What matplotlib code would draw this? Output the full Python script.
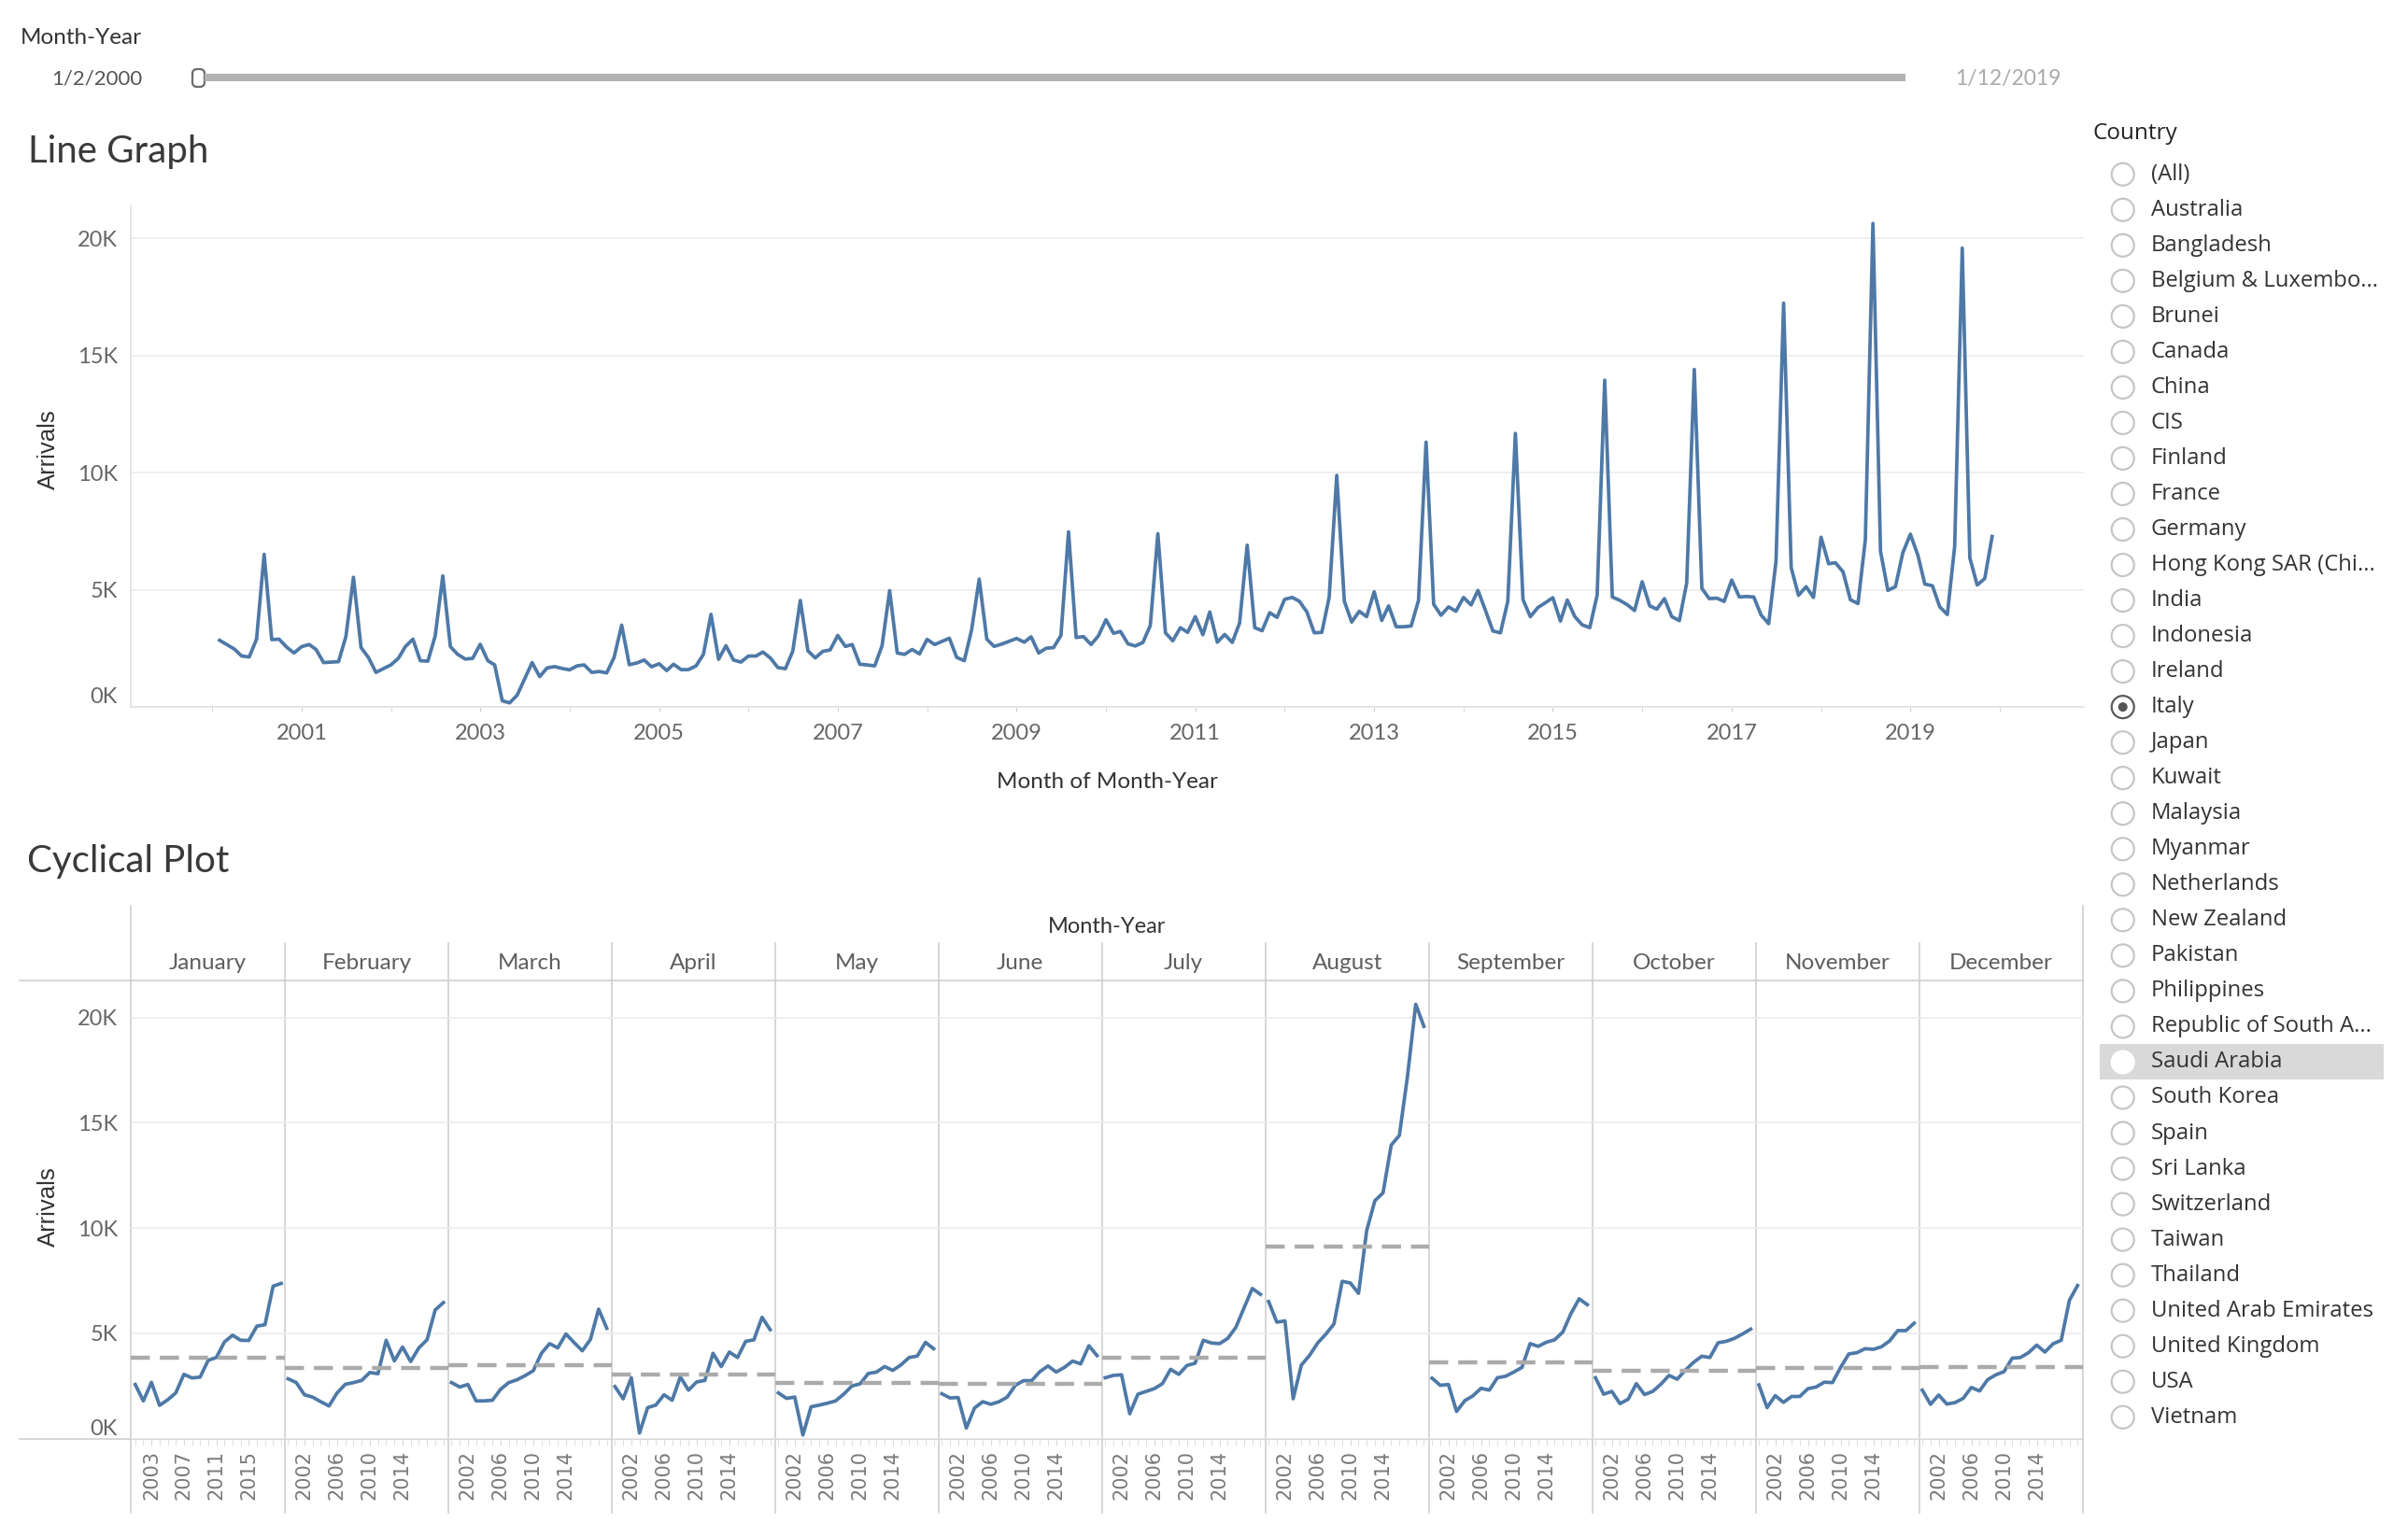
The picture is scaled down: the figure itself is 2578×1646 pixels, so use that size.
import matplotlib.pyplot as plt
from matplotlib.patches import Circle, Rectangle, FancyBboxPatch
import numpy as np

W, H = 2578, 1646
plt.rcParams['font.family'] = ['Lato', 'DejaVu Sans']

# monthly arrivals (Italy), Feb 2000 - Dec 2019
arrivals = [
    2840, 2660, 2470, 2170, 2130, 2890, 6510, 2870, 2890, 2550, 2300,          # 2000
    2570, 2660, 2450, 1890, 1910, 1930, 3000, 5530, 2530, 2110, 1470, 1630,    # 2001
    1790, 2080, 2570, 2890, 1970, 1950, 3030, 5590, 2570, 2240, 2040, 2070,    # 2002
    2670, 1970, 1790, 260, 170, 500, 1180, 1890, 1290, 1660, 1720, 1640,       # 2003
    1580, 1750, 1790, 1470, 1510, 1450, 2110, 3490, 1800, 1870, 2000, 1710,    # 2004
    1840, 1550, 1820, 1590, 1590, 1750, 2240, 3950, 2030, 2610, 2000, 1910,    # 2005
    2170, 2170, 2340, 2080, 1680, 1630, 2370, 4540, 2390, 2090, 2370, 2430,    # 2006
    3050, 2580, 2660, 1820, 1790, 1750, 2610, 4960, 2300, 2240, 2450, 2260,    # 2007
    2880, 2660, 2790, 2930, 2110, 1970, 3290, 5450, 2890, 2580, 2680, 2800,    # 2008
    2920, 2760, 2990, 2300, 2500, 2530, 3050, 7470, 2960, 3000, 2660, 3030,    # 2009
    3720, 3140, 3220, 2690, 2600, 2750, 3470, 7390, 3160, 2820, 3380, 3180,    # 2010
    3850, 3080, 4050, 2760, 3090, 2750, 3580, 6900, 3380, 3250, 4020, 3820,    # 2011
    4590, 4670, 4510, 4050, 3160, 3180, 4670, 9880, 4510, 3620, 4080, 3850,    # 2012
    4910, 3690, 4310, 3420, 3420, 3450, 4540, 11300, 4380, 3910, 4270, 4080,   # 2013
    4670, 4350, 4970, 4110, 3240, 3160, 4510, 11670, 4580, 3850, 4240, 4440,   # 2014
    4660, 3660, 4560, 3850, 3500, 3380, 4760, 13940, 4690, 4550, 4360, 4110,   # 2015
    5340, 4310, 4170, 4620, 3850, 3680, 5290, 14400, 5060, 4620, 4640, 4500,   # 2016
    5410, 4690, 4710, 4690, 3920, 3550, 6220, 17230, 5940, 4760, 5130, 4670,   # 2017
    7240, 6110, 6150, 5760, 4570, 4410, 7130, 20630, 6640, 4970, 5130, 6570,   # 2018
    7370, 6460, 5240, 5170, 4270, 3940, 6850, 19580, 6360, 5200, 5480, 7270,   # 2019
]
months = np.arange('2000-02', '2020-01', dtype='datetime64[M]')
values = np.array(arrivals)
years = months.astype('datetime64[Y]').astype(int) + 1970
month_idx = months.astype(int) % 12

month_names = ['January', 'February', 'March', 'April', 'May', 'June', 'July',
               'August', 'September', 'October', 'November', 'December']
line_year_ticks = [2001, 2003, 2005, 2007, 2009, 2011, 2013, 2015, 2017, 2019]
jan_year_ticks = [2003, 2007, 2011, 2015]
other_year_ticks = [2002, 2006, 2010, 2014]
y_ticks = [0, 5000, 10000, 15000, 20000]
y_labels = ['0K', '5K', '10K', '15K', '20K']

countries = ['(All)', 'Australia', 'Bangladesh', 'Belgium & Luxembo...', 'Brunei',
             'Canada', 'China', 'CIS', 'Finland', 'France', 'Germany',
             'Hong Kong SAR (Chi...', 'India', 'Indonesia', 'Ireland', 'Italy',
             'Japan', 'Kuwait', 'Malaysia', 'Myanmar', 'Netherlands', 'New Zealand',
             'Pakistan', 'Philippines', 'Republic of South A...', 'Saudi Arabia',
             'South Korea', 'Spain', 'Sri Lanka', 'Switzerland', 'Taiwan', 'Thailand',
             'United Arab Emirates', 'United Kingdom', 'USA', 'Vietnam']
selected = 'Italy'
hovered = 'Saudi Arabia'

blue = '#4e79a7'
tick_col = '#666666'


def fx(x):
    return x / W


def fy(y):
    return 1 - y / H


fig = plt.figure(figsize=(W / 100, H / 100), dpi=100)

# ---- line graph
ax = fig.add_axes([fx(140), fy(757), fx(2231) - fx(140), (757 - 220) / H])
ax.set_facecolor('none')
ax.plot(months, values, color=blue, lw=2.7, solid_joinstyle='round')
ax.set_ylim(0, 21400)
ax.set_xlim(np.datetime64('1999-02-03'), np.datetime64('2020-12-10'))
ax.set_yticks(y_ticks)
ax.set_yticklabels(y_labels)
ax.set_xticks([np.datetime64(f'{y}-01-01') for y in line_year_ticks])
ax.set_xticklabels([str(y) for y in line_year_ticks])
ax.set_xticks([np.datetime64(f'{y}-01-01') for y in range(2000, 2021, 2)], minor=True)
ax.tick_params(axis='x', which='both', length=3.6, color='#d0d0d0', pad=9.5,
               labelsize=17, labelcolor=tick_col)
ax.tick_params(axis='y', length=0, pad=10, labelsize=17, labelcolor=tick_col)
ax.grid(axis='y', color='#ececec', lw=1.2)
ax.set_axisbelow(True)
for s in ['top', 'right']:
    ax.spines[s].set_visible(False)
for s in ['left', 'bottom']:
    ax.spines[s].set_color('#e2e2e2')
    ax.spines[s].set_linewidth(1.2)
ax.yaxis.get_major_ticks()[0].label1.set_verticalalignment('bottom')

# ---- cyclical plot
gs = fig.add_gridspec(1, 12, left=fx(140), right=fx(2229.5), bottom=fy(1540.6),
                      top=fy(1050), wspace=0, width_ratios=[165] + [175] * 11)
panels = []
for i in range(12):
    cax = fig.add_subplot(gs[0, i])
    cax.set_facecolor('none')
    sel = month_idx == i
    cax.plot(years[sel], values[sel], color=blue, lw=2.7, solid_joinstyle='round')
    cax.axhline(values[sel].mean(), color='#ababab', lw=3.2, ls=(0, (4.6, 2.4)))
    cax.set_ylim(0, 21760)
    if i == 0:
        cax.set_xlim(2000.45, 2019.45)
        ticks = jan_year_ticks
    else:
        cax.set_xlim(1999.6, 2019.6)
        ticks = other_year_ticks
    cax.set_xticks(ticks)
    cax.set_xticklabels([str(t) for t in ticks], rotation=90, fontfamily='DejaVu Sans',
                        fontsize=15, color='#7a7a7a')
    cax.set_xticks(range(years[sel].min(), 2020), minor=True)
    cax.tick_params(axis='x', which='both', length=5, color='#dadada', pad=4)
    cax.set_yticks(y_ticks)
    if i == 0:
        cax.set_yticklabels(y_labels)
        cax.tick_params(axis='y', length=0, pad=10, labelsize=17, labelcolor=tick_col)
        cax.yaxis.get_major_ticks()[0].label1.set_verticalalignment('bottom')
    else:
        cax.tick_params(axis='y', length=0, labelleft=False)
    cax.grid(axis='y', color='#ececec', lw=1.2)
    cax.set_axisbelow(True)
    for s in cax.spines.values():
        s.set_visible(False)
    panels.append(cax)

# ---- overlay in pixel coordinates (filters, headers, separators)
ov = fig.add_axes([0, 0, 1, 1], zorder=-1)
ov.set_xlim(0, W)
ov.set_ylim(H, 0)
ov.axis('off')

line_col = '#cfcfcf'
ov.plot([21, 2230], [1050, 1050], color=line_col, lw=1.2)
ov.plot([21, 2230], [1540.6, 1540.6], color=line_col, lw=1.2)
bounds = [p.get_position().x0 * W for p in panels] + [panels[-1].get_position().x1 * W]
for k, bx in enumerate(bounds):
    top = 970 if k in (0, len(bounds) - 1) else 1010
    ov.plot([bx, bx], [top, 1620], color=line_col, lw=1.2)
for k, name in enumerate(month_names):
    cx = (bounds[k] + bounds[k + 1]) / 2
    ov.text(cx, 1032, name, ha='center', va='center', fontsize=17.5, color='#5e5e5e')
ov.text((bounds[0] + bounds[-1]) / 2, 992, 'Month-Year', ha='center', va='center',
        fontsize=17, color='#333333')

# titles and axis labels
ov.text(30, 162, 'Line Graph', ha='left', va='center', fontsize=29, color='#3a3a3a')
ov.text(29, 922, 'Cyclical Plot', ha='left', va='center', fontsize=29, color='#3a3a3a')
ov.text(1185, 837, 'Month of Month-Year', ha='center', va='center', fontsize=17.5,
        color='#333333')
for yc in (481, 1292):
    ov.text(52, yc, 'Arrivals', ha='center', va='center', rotation=90, fontsize=18.5,
            fontfamily='Liberation Sans', color='#333333')

# date slider
ov.text(22, 40, 'Month-Year', ha='left', va='center', fontsize=17.5, color='#333333')
ov.text(152, 84, '1/2/2000', ha='right', va='center', fontsize=16, color='#555555')
ov.text(2093, 84, '1/12/2019', ha='left', va='center', fontsize=16.5, color='#aaaaaa')
ov.plot([219, 2040], [83, 83], color='#b2b2b2', lw=5.8, solid_capstyle='butt')
ov.add_patch(FancyBboxPatch((206, 74), 13, 19, boxstyle='round,pad=0,rounding_size=5',
                            fc='white', ec='#6b6b6b', lw=1.6))

# country filter
ov.text(2240, 143, 'Country', ha='left', va='center', fontsize=17.5,
        fontfamily='Open Sans', color='#222222')
for k, name in enumerate(countries):
    yc = 186.7 + k * 38.03
    if name == hovered:
        ov.add_patch(Rectangle((2248, yc - 19), 304, 38, fc='#d9d9d9', ec='none'))
        ov.add_patch(Circle((2272.7, yc), 12, fc='white', ec='white', lw=1.5))
    elif name == selected:
        ov.add_patch(Circle((2272.7, yc), 12, fc='white', ec='#5a5a5a', lw=1.6))
        ov.add_patch(Circle((2272.7, yc), 5, fc='#555555', ec='none'))
    else:
        ov.add_patch(Circle((2272.7, yc), 12, fc='white', ec='#c6c6c6', lw=1.6))
    ov.text(2303, yc, name, ha='left', va='center', fontsize=17.2, fontfamily='Open Sans',
            color='#333333')

fig.savefig('out.png', dpi=100, facecolor='white')
